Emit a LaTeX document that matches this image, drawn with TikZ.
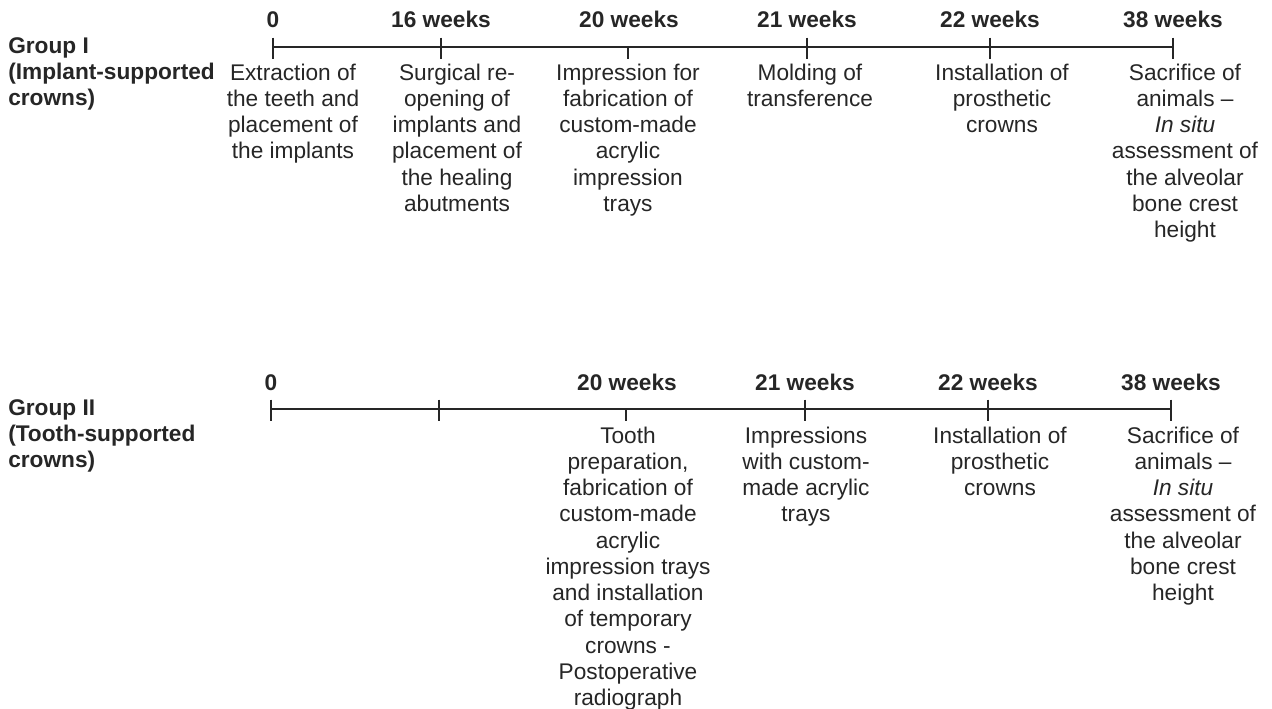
\documentclass[tikz,border=0pt]{standalone}
\usepackage{fontspec}
\setmainfont{Liberation Sans}
\begin{document}
\begin{tikzpicture}[x=0.75pt,y=-0.75pt,
  axisline/.style={line width=1.5pt,color=black!85},
  tickmark/.style={line width=1.2pt,color=black!85},
  wk/.style={font=\fontsize{17pt}{19.7pt}\selectfont\bfseries,anchor=base,inner sep=0pt,text=black!85},
  grp/.style={font=\fontsize{17pt}{19.7pt}\selectfont\bfseries,anchor=north west,align=left,inner sep=0pt,text=black!85},
  ev/.style={font=\fontsize{17pt}{19.7pt}\selectfont,anchor=north,align=center,inner sep=0pt,text=black!85}]
\useasboundingbox (0,0) rectangle (1272,709);
% ---------- Group I ----------
\coordinate (a0) at (273,47);
\coordinate (a1) at (441,47);
\coordinate (a2) at (628,47);
\coordinate (a3) at (807,47);
\coordinate (a4) at (990,47);
\coordinate (a5) at (1173,47);
\draw[axisline] (a0) -- (a5);
\foreach \c in {a0,a1,a3,a4,a5} \draw[tickmark] ([yshift=7pt]\c) -- ([yshift=-9pt]\c);
\draw[tickmark] (a2) -- ([yshift=-9pt]a2);
\node[wk] (la0) at (273,27.5) {0};
\node[wk] (la1) at (441,27.5) {16 weeks};
\node[wk] (la2) at (629,27.5) {20 weeks};
\node[wk] (la3) at (807,27.5) {21 weeks};
\node[wk] (la4) at (990,27.5) {22 weeks};
\node[wk] (la5) at (1173,27.5) {38 weeks};
\node[grp] (g1) at (8,37) {Group I\\(Implant-supported\\crowns)};
\node[ev] (ea0) at (293,63.4) {Extraction of\\the teeth and\\placement of\\the implants};
\node[ev] (ea1) at (457,63.4) {Surgical re-\\opening of\\implants and\\placement of\\the healing\\abutments};
\node[ev] (ea2) at (628,63.4) {Impression for\\fabrication of\\custom-made\\acrylic\\impression\\trays};
\node[ev] (ea3) at (810,63.4) {Molding of\\transference};
\node[ev] (ea4) at (1002,63.4) {Installation of\\prosthetic\\crowns};
\node[ev] (ea5) at (1185,63.4) {Sacrifice of\\animals --\\\textit{In situ}\\assessment of\\the alveolar\\bone crest\\height};
% ---------- Group II ----------
\coordinate (b0) at (271,409);
\coordinate (b1) at (439,409);
\coordinate (b2) at (626,409);
\coordinate (b3) at (805,409);
\coordinate (b4) at (988,409);
\coordinate (b5) at (1171,409);
\draw[axisline] (b0) -- (b5);
\foreach \c in {b0,b1,b3,b4,b5} \draw[tickmark] ([yshift=7pt]\c) -- ([yshift=-9pt]\c);
\draw[tickmark] (b2) -- ([yshift=-9pt]b2);
\node[wk] (lb0) at (271,390.5) {0};
\node[wk] (lb2) at (627,390.5) {20 weeks};
\node[wk] (lb3) at (805,390.5) {21 weeks};
\node[wk] (lb4) at (988,390.5) {22 weeks};
\node[wk] (lb5) at (1171,390.5) {38 weeks};
\node[grp] (g2) at (8,399) {Group II\\(Tooth-supported\\crowns)};
\node[ev] (eb2) at (628,426.4) {Tooth\\preparation,\\fabrication of\\custom-made\\acrylic\\impression trays\\and installation\\of temporary\\crowns -\\Postoperative\\radiograph};
\node[ev] (eb3) at (806,426.4) {Impressions\\with custom-\\made acrylic\\trays};
\node[ev] (eb4) at (1000,426.4) {Installation of\\prosthetic\\crowns};
\node[ev] (eb5) at (1183,426.4) {Sacrifice of\\animals --\\\textit{In situ}\\assessment of\\the alveolar\\bone crest\\height};
\end{tikzpicture}
\end{document}
